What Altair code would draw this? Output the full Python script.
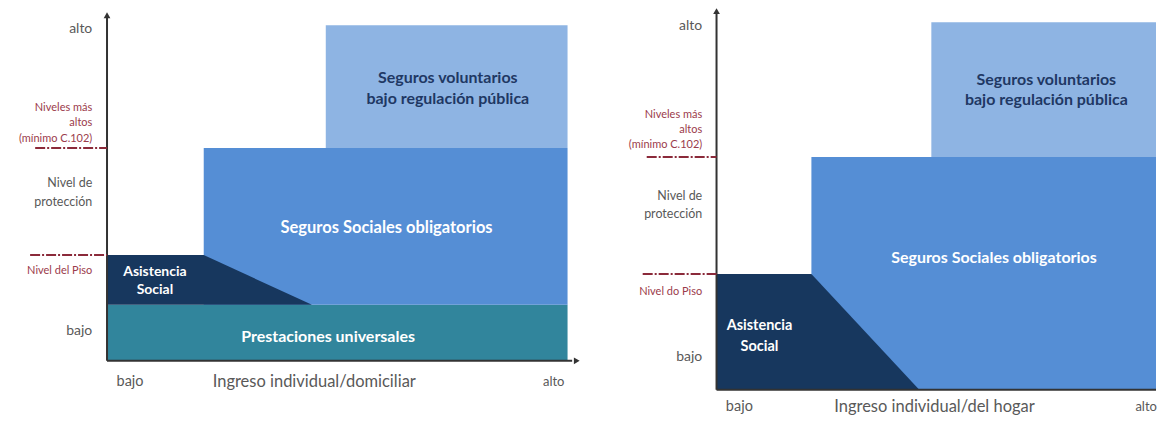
import altair as alt
import pandas as pd

# ---------------- data (conceptual units: 0 = origin, 100 = "alto") ----------------
# Left panel blocks
L_blk_name = ["Prestaciones universales", "Seguros Sociales obligatorios", "Seguros voluntarios"]
L_blk_x0 = [0, 21, 47.5]
L_blk_x1 = [100, 100, 100]
L_blk_y0 = [0, 16.7, 63.4]
L_blk_y1 = [16.7, 63.4, 100]
# Left "Asistencia Social" polygon (top edge, base)
L_asis_x = [0, 21, 44.5]
L_asis_top = [31.5, 31.5, 16.7]
L_asis_base = [16.7, 16.7, 16.7]

# Right panel blocks
R_blk_name = ["Seguros Sociales obligatorios", "Seguros voluntarios"]
R_blk_x0 = [21.2, 48]
R_blk_x1 = [100, 100]
R_blk_y0 = [0, 63.3]
R_blk_y1 = [63.3, 100]
R_asis_x = [0, 21.2, 45.3]
R_asis_top = [31.5, 31.5, 0]
R_asis_base = [0, 0, 0]

# reference levels (Nivel del Piso, Niveles más altos)
L_levels = [31.5, 63.4]
L_level_start = [-16.7, -15.6]
R_levels = [31.5, 63.3]
R_level_start = [-16.5, -15.6]

# y-side labels
L_ylab_text = ["alto", "Niveles más", "altos", "(mínimo C.102)", "Nivel de", "protección", "Nivel del Piso", "bajo"]
L_ylab_y = [98.8, 75.3, 70.8, 66.0, 53.0, 47.3, 26.8, 8.9]
R_ylab_text = ["alto", "Niveles más", "altos", "(mínimo C.102)", "Nivel de", "protección", "Nivel do Piso", "bajo"]
R_ylab_y = [99.0, 74.7, 70.7, 66.6, 52.7, 47.8, 26.6, 9.0]
ylab_kind = ["axis", "red", "red", "red", "gray", "gray", "red", "axis"]

# x-side labels
L_xlab_text = ["bajo", "Ingreso individual/domiciliar", "alto"]
L_xlab_x = [5, 45, 97]
L_xlab_y = [-6.2, -6.2, -6.2]
R_xlab_text = ["bajo", "Ingreso individual/del hogar", "alto"]
R_xlab_x = [5.1, 48.7, 96]
R_xlab_y = [-4.8, -4.8, -4.8]

# labels inside blocks
L_in_text = ["Seguros voluntarios", "bajo regulación pública", "Seguros Sociales obligatorios",
             "Asistencia", "Social", "Prestaciones universales"]
L_in_x = [74, 74, 60.7, 10.4, 10.4, 48]
L_in_y = [84.2, 78.0, 39.6, 26.5, 21.0, 7.1]
L_in_dark = [True, True, False, False, False, False]
L_in_size = [16, 16, 16.5, 14, 14, 16]
R_in_text = ["Seguros voluntarios", "bajo regulación pública", "Seguros Sociales obligatorios",
             "Asistencia", "Social"]
R_in_x = [73.7, 73.7, 62, 9.6, 9.6]
R_in_y = [84.2, 78.8, 35.9, 17.4, 11.7]
R_in_dark = [True, True, False, False, False]
R_in_size = [16, 16, 16, 14.5, 14.5]

# ---------------- styles ----------------
BLOCK_COLORS = {
    "Prestaciones universales": "#31859c",
    "Seguros Sociales obligatorios": "#558ed5",
    "Seguros voluntarios": "#8eb4e3",
}
ASIS_COLOR = "#17375e"
KIND_STYLE = {"axis": ("#595959", 14), "red": ("#9b3b4b", 11), "gray": ("#595959", 12.5)}
FONT = "Lato"


def panel(blk, asis, levels, lev_start, ylab, ylab_y, xlab, xlab_x, xlab_y,
          in_text, in_x, in_y, in_dark, in_size, xdom, ydom, w, h, x_end, arrow_x):
    X = lambda f: alt.X(f, type="quantitative", scale=alt.Scale(domain=xdom, nice=False, zero=False), axis=None)
    Y = lambda f: alt.Y(f, type="quantitative", scale=alt.Scale(domain=ydom, nice=False, zero=False), axis=None)

    blk_df = pd.DataFrame({"name": blk[0], "x0": blk[1], "x1": blk[2], "y0": blk[3], "y1": blk[4]})
    blk_df["col"] = blk_df["name"].map(BLOCK_COLORS)
    rects = alt.Chart(blk_df).mark_rect(clip=True).encode(
        x=X("x0"), x2="x1", y=Y("y0"), y2="y1", color=alt.Color("col:N", scale=None))

    asis_df = pd.DataFrame({"x": asis[0], "top": asis[1], "base": asis[2]})
    area = alt.Chart(asis_df).mark_area(color=ASIS_COLOR, clip=True).encode(
        x=X("x"), y=Y("top"), y2="base")

    ax_df = pd.DataFrame({"x": [0, 0], "x2": [0, x_end], "y": [0, 0], "y2": [103, 0]})
    axes = alt.Chart(ax_df).mark_rule(color="#333333", strokeWidth=2, clip=True).encode(
        x=X("x"), x2="x2", y=Y("y"), y2="y2")

    arr_df = pd.DataFrame({"x": [0] + ([arrow_x] if arrow_x is not None else []),
                           "y": [103] + ([0] if arrow_x is not None else []),
                           "shape": ["triangle-up"] + (["triangle-right"] if arrow_x is not None else [])})
    arrows = alt.Chart(arr_df).mark_point(filled=True, color="#333333", size=45, opacity=1).encode(
        x=X("x"), y=Y("y"), shape=alt.Shape("shape:N", scale=None))

    lev_df = pd.DataFrame({"y": levels, "x": lev_start, "x2": [0] * len(levels)})
    lev = alt.Chart(lev_df).mark_rule(color="#8b2a3a", strokeWidth=2, strokeDash=[10, 2, 2, 2]).encode(
        x=X("x"), x2="x2", y=Y("y"))

    yl_df = pd.DataFrame({"t": ylab, "y": ylab_y, "kind": ylab_kind})
    yl_df["x"] = -3.2
    yl_df["col"] = yl_df["kind"].map(lambda k: KIND_STYLE[k][0])
    yl_df["sz"] = yl_df["kind"].map(lambda k: KIND_STYLE[k][1])
    ylt = alt.Chart(yl_df).mark_text(align="right", baseline="middle", font=FONT).encode(
        x=X("x"), y=Y("y"), text="t:N", color=alt.Color("col:N", scale=None),
        size=alt.Size("sz:Q", scale=None))

    xl_df = pd.DataFrame({"t": xlab, "x": xlab_x, "y": xlab_y})
    xl_df["sz"] = [14.5, 16.5, 13]
    xlt = alt.Chart(xl_df).mark_text(align="center", baseline="middle", font=FONT, color="#595959").encode(
        x=X("x"), y=Y("y"), text="t:N", size=alt.Size("sz:Q", scale=None))

    in_df = pd.DataFrame({"t": in_text, "x": in_x, "y": in_y, "dark": in_dark, "sz": in_size})
    in_df["col"] = in_df["dark"].map(lambda d: "#1f3864" if d else "#ffffff")
    int_ = alt.Chart(in_df).mark_text(align="center", baseline="middle", font=FONT,
                                      fontWeight="bold").encode(
        x=X("x"), y=Y("y"), text="t:N", color=alt.Color("col:N", scale=None),
        size=alt.Size("sz:Q", scale=None))

    return alt.layer(rects, area, axes, arrows, lev, ylt, xlt, int_).properties(width=w, height=h)


left = panel((L_blk_name, L_blk_x0, L_blk_x1, L_blk_y0, L_blk_y1),
             (L_asis_x, L_asis_top, L_asis_base), L_levels, L_level_start,
             L_ylab_text, L_ylab_y, L_xlab_text, L_xlab_x, L_xlab_y,
             L_in_text, L_in_x, L_in_y, L_in_dark, L_in_size,
             [-21.5, 106.5], [-16.1, 105.1], 590, 407, 101, 102)

right = panel((R_blk_name, R_blk_x0, R_blk_x1, R_blk_y0, R_blk_y1),
              (R_asis_x, R_asis_top, R_asis_base), R_levels, R_level_start,
              R_ylab_text, R_ylab_y, R_xlab_text, R_xlab_x, R_xlab_y,
              R_in_text, R_in_x, R_in_y, R_in_dark, R_in_size,
              [-26.6, 98.2], [-6.8, 103.8], 559, 407, 100, None)

chart = alt.hconcat(left, right, spacing=0).properties(padding=0).configure_view(stroke=None)

chart.save("out.html", embed_options={"renderer": "svg", "actions": False})
